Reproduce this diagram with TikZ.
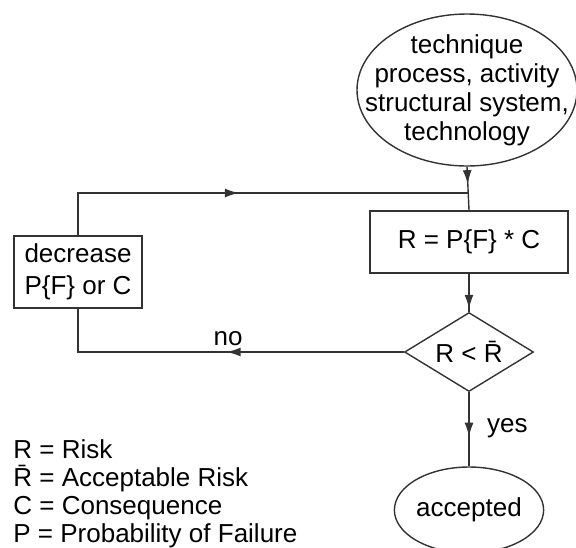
\documentclass[tikz,border=0pt]{standalone}
\usepackage{fontspec}
\setmainfont{Liberation Sans}
\usetikzlibrary{shapes.geometric,arrows.meta,decorations.markings}
\begin{document}
\begin{tikzpicture}[
    x=0.5pt, y=-0.5pt,
    every node/.style={font=\fontsize{13}{14.5}\selectfont, text=black},
    term/.style={ellipse, draw=black!80, line width=0.7pt, align=center},
    proc/.style={rectangle, draw=black!80, line width=0.7pt, inner sep=0pt, align=center},
    test/.style={diamond, draw=black!80, line width=0.7pt, inner sep=0pt, shape aspect=1.6},
    flow/.style={draw=black!80, line width=0.7pt},
    midarrow/.style={postaction={decorate}, decoration={markings,
        mark=at position #1 with {\arrow{Latex[length=7pt, width=4.5pt]}}}}
]
\useasboundingbox (0,0) rectangle (576,547);
\node[term, inner xsep=-14pt, inner ysep=-1pt, minimum width=110pt, minimum height=76pt] (src) at (467,90)
    {technique\\process, activity\\structural system,\\technology};
\node[proc, minimum width=99pt, minimum height=31pt] (risk) at (469,242) {R = P\{F\} * C};
\node[test, minimum width=64.5pt, minimum height=39.5pt] (check) at (469,352) {R < \=R};
\node[term, inner sep=0pt, minimum width=66pt, minimum height=43pt] (ok) at (469,510) {accepted};
\node[proc, minimum width=64pt, minimum height=36pt, font=\fontsize{13}{16}\selectfont] (dec) at (78,272)
    {decrease\\P\{F\} or C};
\coordinate (join) at (468,193);
\draw[flow, midarrow=0.4] (src.south) -- (risk.north);
\draw[flow, midarrow=0.47] (dec.north) |- (join);
\draw[flow, midarrow=0.92] (risk.south) -- (check.north);
\draw[flow, midarrow=0.48] (check.west) -| (dec.south);
\draw[flow, midarrow=0.6] (check.south) -- (ok.north);
\node[anchor=base] (nolabel) at (228,345) {no};
\node[anchor=west] (yeslabel) at (480,428) {yes};
\node[anchor=north west, inner sep=0pt, align=left, font=\fontsize{13}{14}\selectfont] (legend) at (13,439)
    {R = Risk\\\=R = Acceptable Risk\\C = Consequence\\P = Probability of Failure};
\end{tikzpicture}
\end{document}
